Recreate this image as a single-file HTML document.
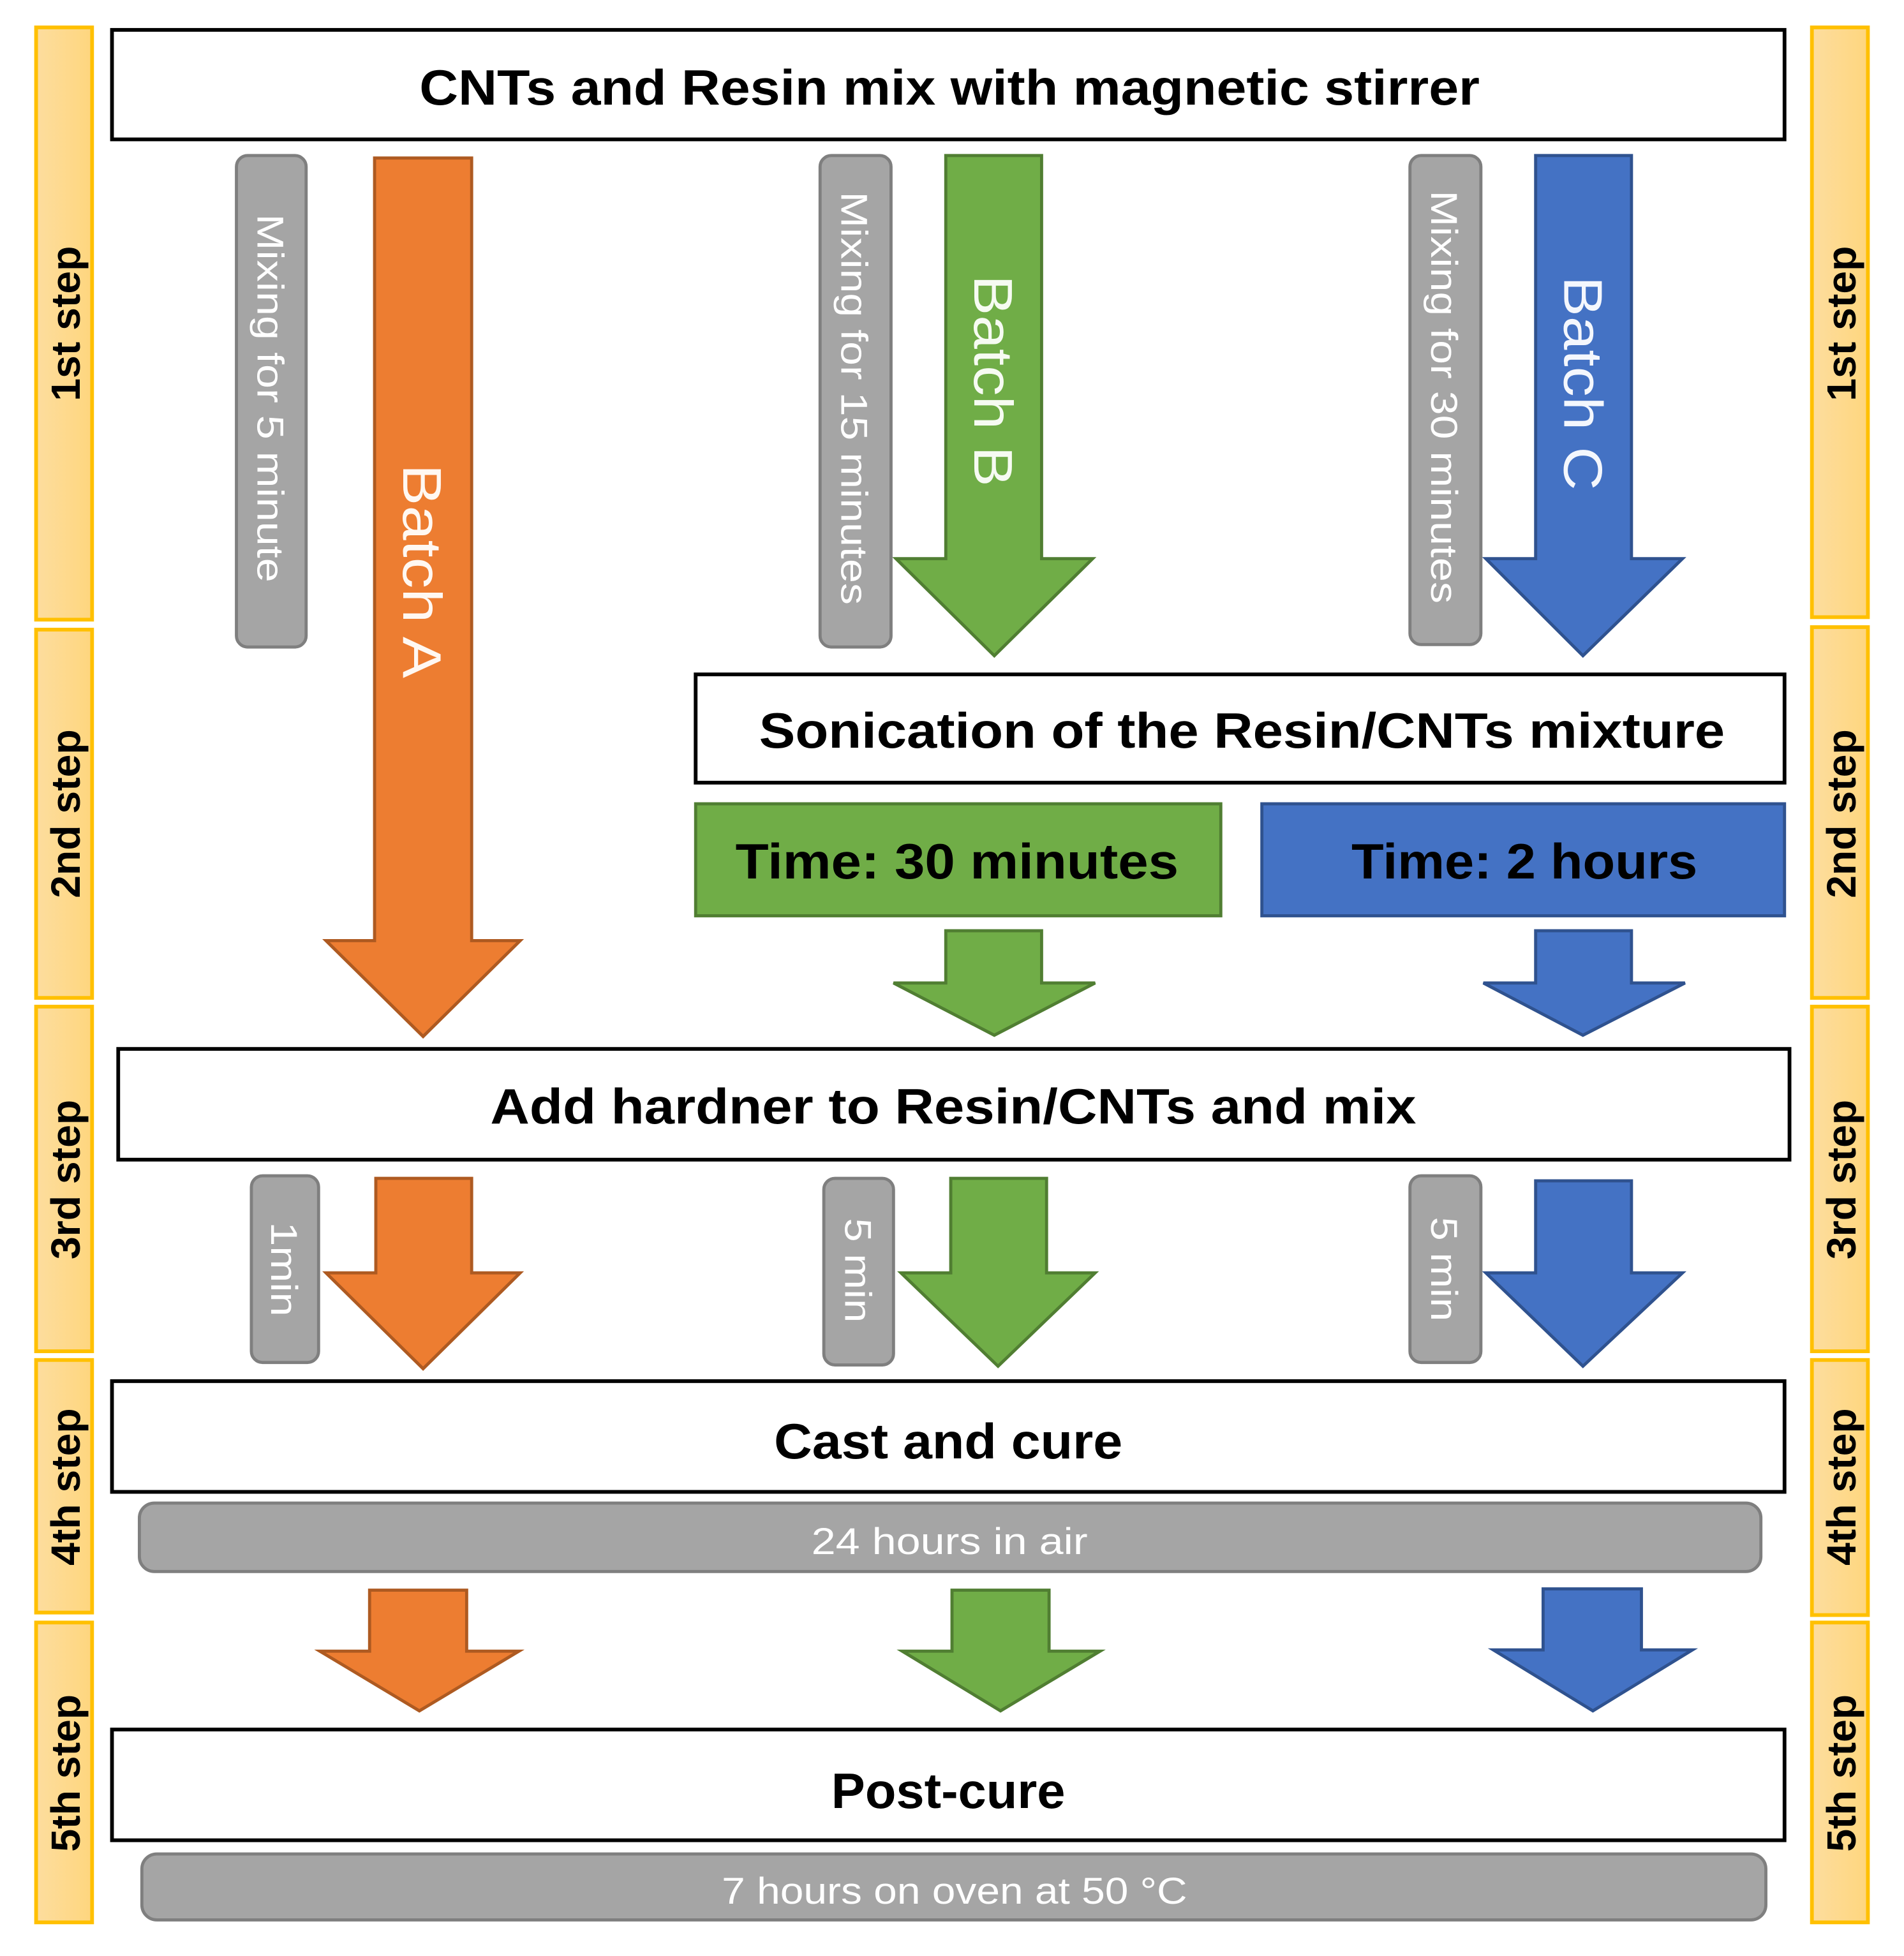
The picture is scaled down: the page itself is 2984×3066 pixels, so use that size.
<!DOCTYPE html>
<html><head><meta charset="utf-8"><style>
html,body{margin:0;padding:0;background:#fff}
svg{display:block}
text{font-family:"Liberation Sans",sans-serif}
.b{font-weight:bold;fill:#000}
.w{fill:#fff}
</style></head><body>
<svg width="2984" height="3066" viewBox="0 0 1530 1572" xmlns="http://www.w3.org/2000/svg">
<defs>
<linearGradient id="g" x1="0" x2="1" y1="0" y2="0"><stop offset="0" stop-color="#FDDD9E"/><stop offset="1" stop-color="#FED67E"/></linearGradient>
</defs>
<g fill="url(#g)" stroke="#FFC000" stroke-width="3">
<rect x="29" y="22" width="45" height="476"/>
<rect x="29" y="506" width="45" height="296"/>
<rect x="29" y="809" width="45" height="277"/>
<rect x="29" y="1093" width="45" height="203"/>
<rect x="29" y="1304" width="45" height="241"/>
<rect x="1456" y="22" width="45" height="474"/>
<rect x="1456" y="504" width="45" height="298"/>
<rect x="1456" y="809" width="45" height="277"/>
<rect x="1456" y="1093" width="45" height="205"/>
<rect x="1456" y="1304" width="45" height="241"/>
</g>
<g class="b" font-size="33" text-anchor="middle">
<text transform="translate(64,260) rotate(-90)">1st step</text>
<text transform="translate(64,654) rotate(-90)">2nd step</text>
<text transform="translate(64,948) rotate(-90)">3rd step</text>
<text transform="translate(64,1195) rotate(-90)">4th step</text>
<text transform="translate(64,1425) rotate(-90)">5th step</text>
<text transform="translate(1491,260) rotate(-90)">1st step</text>
<text transform="translate(1491,654) rotate(-90)">2nd step</text>
<text transform="translate(1491,948) rotate(-90)">3rd step</text>
<text transform="translate(1491,1195) rotate(-90)">4th step</text>
<text transform="translate(1491,1425) rotate(-90)">5th step</text>
</g>
<g fill="#fff" stroke="#000" stroke-width="3">
<rect x="90" y="24" width="1344" height="88"/>
<rect x="559" y="542" width="875" height="87"/>
<rect x="95" y="843" width="1343" height="89"/>
<rect x="90" y="1110" width="1344" height="89"/>
<rect x="90" y="1390" width="1344" height="89"/>
</g>
<rect x="559" y="646" width="422" height="90" fill="#70AD47" stroke="#507E32" stroke-width="2.5"/>
<rect x="1014" y="646" width="420" height="90" fill="#4472C4" stroke="#2F528F" stroke-width="2.5"/>
<g class="b" font-size="40" text-anchor="middle">
<text x="763" y="84" textLength="852" lengthAdjust="spacingAndGlyphs">CNTs and Resin mix with magnetic stirrer</text>
<text x="998" y="601" textLength="776" lengthAdjust="spacingAndGlyphs">Sonication of the Resin/CNTs mixture</text>
<text x="769" y="706" textLength="356" lengthAdjust="spacingAndGlyphs">Time: 30 minutes</text>
<text x="1225" y="706" textLength="278" lengthAdjust="spacingAndGlyphs">Time: 2 hours</text>
<text x="766" y="903" textLength="744" lengthAdjust="spacingAndGlyphs">Add hardner to Resin/CNTs and mix</text>
<text x="762" y="1172" textLength="280" lengthAdjust="spacingAndGlyphs">Cast and cure</text>
<text x="762" y="1453" textLength="188" lengthAdjust="spacingAndGlyphs">Post-cure</text>
</g>
<g fill="#A5A5A5" stroke="#7F7F7F" stroke-width="2.5">
<rect x="190" y="125" width="56" height="395" rx="9"/>
<rect x="659" y="125" width="57" height="395" rx="9"/>
<rect x="1133" y="125" width="57" height="393" rx="9"/>
<rect x="202" y="945" width="54" height="150" rx="9"/>
<rect x="662" y="947" width="56" height="150" rx="9"/>
<rect x="1133" y="945" width="57" height="150" rx="9"/>
<rect x="112" y="1208" width="1303" height="55" rx="12"/>
<rect x="114" y="1490" width="1305" height="53" rx="12"/>
</g>
<g class="w" font-size="30" text-anchor="middle">
<text transform="translate(207,320) rotate(90)" textLength="296" lengthAdjust="spacingAndGlyphs">Mixing for 5 minute</text>
<text transform="translate(676,320) rotate(90)" textLength="332" lengthAdjust="spacingAndGlyphs">Mixing for 15 minutes</text>
<text transform="translate(1150,319) rotate(90)" textLength="332" lengthAdjust="spacingAndGlyphs">Mixing for 30 minutes</text>
<text transform="translate(218,1020) rotate(90)" textLength="76" lengthAdjust="spacingAndGlyphs">1min</text>
<text transform="translate(679,1021) rotate(90)" textLength="84" lengthAdjust="spacingAndGlyphs">5 min</text>
<text transform="translate(1150,1020) rotate(90)" textLength="84" lengthAdjust="spacingAndGlyphs">5 min</text>
<text x="763" y="1249" textLength="222" lengthAdjust="spacingAndGlyphs">24 hours in air</text>
<text x="767" y="1530" textLength="374" lengthAdjust="spacingAndGlyphs">7 hours on oven at 50 °C</text>
</g>
<g stroke-width="2.5" stroke-linejoin="miter">
<polygon fill="#ED7D31" stroke="#AE5A21" points="301,127 379,127 379,756 418,756 340,833 262,756 301,756"/>
<polygon fill="#70AD47" stroke="#507E32" points="760,125 837,125 837,449 878,449 799,527 720,449 760,449"/>
<polygon fill="#4472C4" stroke="#2F528F" points="1234,125 1311,125 1311,449 1352,449 1272,527 1194,449 1234,449"/>
<polygon fill="#70AD47" stroke="#507E32" points="760,748 837,748 837,790 880,790 799,832 718,790 760,790"/>
<polygon fill="#4472C4" stroke="#2F528F" points="1234,748 1311,748 1311,790 1354,790 1272,832 1192,790 1234,790"/>
<polygon fill="#ED7D31" stroke="#AE5A21" points="302,947 379,947 379,1023 418,1023 340,1100 262,1023 302,1023"/>
<polygon fill="#70AD47" stroke="#507E32" points="764,947 841,947 841,1023 880,1023 802,1098 724,1023 764,1023"/>
<polygon fill="#4472C4" stroke="#2F528F" points="1234,949 1311,949 1311,1023 1352,1023 1272,1098 1194,1023 1234,1023"/>
<polygon fill="#ED7D31" stroke="#AE5A21" points="297,1278 375,1278 375,1327 417,1327 337,1375 257,1327 297,1327"/>
<polygon fill="#70AD47" stroke="#507E32" points="765,1278 843,1278 843,1327 884,1327 804,1375 725,1327 765,1327"/>
<polygon fill="#4472C4" stroke="#2F528F" points="1240,1277 1319,1277 1319,1326 1360,1326 1280,1375 1200,1326 1240,1326"/>
</g>
<g font-size="44" text-anchor="middle">
<text transform="translate(324,459) rotate(90)" fill="#FFF8F2" textLength="172" lengthAdjust="spacingAndGlyphs">Batch A</text>
<text transform="translate(783,306) rotate(90)" fill="#F6FBF2" textLength="170" lengthAdjust="spacingAndGlyphs">Batch B</text>
<text transform="translate(1257,308) rotate(90)" fill="#F4F7FD" textLength="172" lengthAdjust="spacingAndGlyphs">Batch C</text>
</g>
</svg>
</body></html>
